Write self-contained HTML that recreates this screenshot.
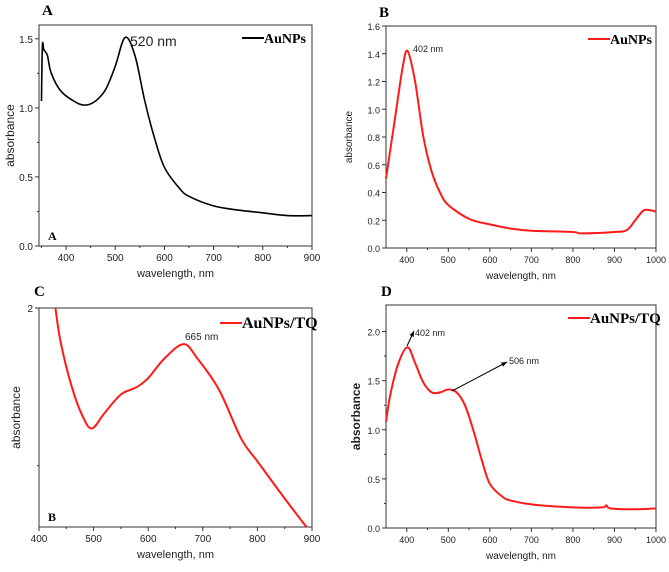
<!DOCTYPE html>
<html><head><meta charset="utf-8">
<style>
html,body{margin:0;padding:0;background:#fff;width:669px;height:572px;overflow:hidden}
svg{display:block}
text{font-family:"Liberation Sans",sans-serif;fill:#222}
.ser{font-family:"Liberation Serif",serif;font-weight:bold;fill:#000}
</style></head><body>
<svg id="fig" width="669" height="572"></svg>
<script>
// Panel A data
const aX=[350,352,355,362,370,390,420,440,460,480,500,520,540,560,580,600,630,650,700,750,800,850,900];
const aY=[1.05,1.45,1.42,1.38,1.25,1.12,1.04,1.02,1.05,1.13,1.3,1.51,1.38,1.05,0.78,0.57,0.42,0.36,0.29,0.26,0.24,0.22,0.22];
const aXT=[400,500,600,700,800,900];
const aYT=[0.0,0.5,1.0,1.5];
// Panel B data
const bX=[350,370,390,402,420,440,460,480,500,550,600,650,700,800,820,900,930,950,970,990,1000];
const bY=[0.5,0.9,1.3,1.42,1.2,0.8,0.55,0.4,0.31,0.21,0.17,0.14,0.125,0.115,0.105,0.115,0.13,0.2,0.27,0.27,0.26];
const bXT=[400,500,600,700,800,900,1000];
const bYT=[0.0,0.2,0.4,0.6,0.8,1.0,1.2,1.4,1.6];
// Panel C data
const cX=[430,440,460,480,497,520,550,580,600,630,665,690,730,770,800,850,890];
const cY=[2.0,1.68,1.28,1.01,0.9,1.04,1.21,1.28,1.36,1.54,1.67,1.54,1.25,0.81,0.6,0.26,0.0];
const cXT=[400,500,600,700,800,900];
const cYT=[2];
// Panel D data
const dX=[350,360,380,402,420,440,460,480,500,520,540,560,580,600,630,650,700,800,870,880,890,940,1000];
const dY=[1.08,1.35,1.68,1.84,1.68,1.48,1.38,1.38,1.41,1.38,1.25,1.0,0.7,0.45,0.32,0.28,0.24,0.21,0.21,0.23,0.2,0.19,0.2];
const dXT=[400,500,600,700,800,900,1000];
const dYT=[0.0,0.5,1.0,1.5,2.0];

const svg=document.getElementById('fig');
const NS='http://www.w3.org/2000/svg';
function el(tag,attrs,txt){const e=document.createElementNS(NS,tag);for(const k in attrs)e.setAttribute(k,attrs[k]);if(txt!==undefined)e.textContent=txt;svg.appendChild(e);return e;}

function smooth(pts){
  let d='M'+pts[0][0].toFixed(1)+','+pts[0][1].toFixed(1);
  for(let i=0;i<pts.length-1;i++){
    const p0=pts[Math.max(0,i-1)],p1=pts[i],p2=pts[i+1],p3=pts[Math.min(pts.length-1,i+2)];
    const c1=[p1[0]+(p2[0]-p0[0])/6,p1[1]+(p2[1]-p0[1])/6];
    const c2=[p2[0]-(p3[0]-p1[0])/6,p2[1]-(p3[1]-p1[1])/6];
    d+='C'+c1[0].toFixed(1)+','+c1[1].toFixed(1)+' '+c2[0].toFixed(1)+','+c2[1].toFixed(1)+' '+p2[0].toFixed(1)+','+p2[1].toFixed(1);
  }
  return d;
}

function panel(p){
  const sx=v=>p.l+(v-p.x0)/(p.x1-p.x0)*(p.r-p.l);
  const sy=v=>p.b-(v-p.y0)/(p.y1-p.y0)*(p.b-p.t);
  const f=el('rect',{x:p.l,y:p.t,width:p.r-p.l,height:p.b-p.t,fill:'none',stroke:'#333','stroke-width':1});
  
  
  p.xt.forEach((v,i)=>{
    const x=sx(v);
    const t=el('line',{x1:x,y1:p.b,x2:x,y2:p.b+4,stroke:'#333'});
    
    
    const mx=sx(v-50);
    if(mx>p.l){const m=el('line',{x1:mx,y1:p.b,x2:mx,y2:p.b+2,stroke:'#333'});
      
      }
    const l=el('text',{x:x,y:p.b+15,'text-anchor':'middle','font-size':p.fs},String(v));
    
    
  });
  p.yt.forEach(v=>{
    const y=sy(v);
    const t=el('line',{x1:p.l,y1:y,x2:p.l-4,y2:y,stroke:'#333'});
    
    
    const l=el('text',{x:p.l-6,y:y+4,'text-anchor':'end','font-size':p.fs},p.fmt(v));
    
    
  });
  if(p.ym){p.ym.forEach(v=>{const y=sy(v);
    const m=el('line',{x1:p.l,y1:y,x2:p.l-2,y2:y,stroke:'#333'});
    
    });}
  const pts=p.xs.map((v,i)=>[sx(v),sy(p.ys[i])]);
  const path=el('path',{d:smooth(pts),fill:'none',stroke:p.col,'stroke-width':p.col==='#000'?1.6:2,'stroke-linejoin':'round'});
  
  
  const xl=el('text',{x:(p.l+p.r)/2,y:p.b+31,'text-anchor':'middle','font-size':p.fs+1},'wavelength, nm');
  
  
  const yx=p.ylx, yy=(p.t+p.b)/2;
  const yl=el('text',{x:yx,y:yy,'text-anchor':'middle','font-size':p.yfs,transform:'rotate(-90 '+yx+' '+yy+')','font-weight':p.ybold?'bold':'normal'},'absorbance');
  
  
  const ll=el('line',{x1:p.lg[0],y1:p.lg[1]-5,x2:p.lg[0]+22,y2:p.lg[1]-5,stroke:p.col,'stroke-width':2});
  
  
  const lt=el('text',{x:p.lg[0]+22,y:p.lg[1],'font-size':p.lg[3],class:'ser'},p.lg[2]);
  
  
  const pl=el('text',{x:p.pl[0],y:p.pl[1],'font-size':15,class:'ser'},p.pl[2]);
  
  
}

panel({id:'a',l:39,r:312,t:25,b:246,x0:345,x1:900,y0:0,y1:1.6,xs:aX,ys:aY,xt:aXT,yt:aYT,ym:[0.25,0.75,1.25],col:'#000',fs:10,yfs:12,ylx:14,fmt:v=>v.toFixed(1),lg:[242,43,'AuNPs',14],pl:[42,15,'A']});
panel({id:'b',l:386,r:656,t:26,b:248,x0:350,x1:1000,y0:0,y1:1.6,xs:bX,ys:bY,xt:bXT,yt:bYT,col:'#ff1a1a',fs:9,yfs:10,ylx:352,fmt:v=>v.toFixed(1),lg:[588,44,'AuNPs',14],pl:[379,17,'B']});
panel({id:'c',l:39,r:312,t:308,b:527,x0:400,x1:900,y0:0,y1:2,xs:cX,ys:cY,xt:cXT,yt:cYT,ym:[0.56],col:'#ff1a1a',fs:10,yfs:12,ylx:20,fmt:v=>String(v),lg:[220,328,'AuNPs/TQ',16],pl:[34,296,'C']});
panel({id:'d',l:386,r:656,t:305,b:528,x0:350,x1:1000,y0:0,y1:2.27,xs:dX,ys:dY,xt:dXT,yt:dYT,ym:[0.25,0.75,1.25,1.75],col:'#ff1a1a',fs:9,yfs:12,ylx:360,ybold:true,fmt:v=>v.toFixed(1),lg:[568,323,'AuNPs/TQ',15],pl:[381,296,'D']});

// annotations
const ann=[[130,46,14,'520 nm','a-peak-label'],[413,52,9,'402 nm','b-peak-label'],[185,340,10,'665 nm','c-peak-label'],[415,336,9,'402 nm','d-peak1-label'],[509,364,9,'506 nm','d-peak2-label']];
ann.forEach(a=>{const t=el('text',{x:a[0],y:a[1],'font-size':a[2]},a[3]);
  
  });
const ia=el('text',{x:48,y:240,'font-size':12,class:'ser'},'A');


const ib=el('text',{x:48,y:521,'font-size':12,class:'ser'},'B');


const arrows=[[407,346,414,331,'d-peak1-arrow'],[452,391,507,362,'d-peak2-arrow']];
arrows.forEach(a=>{
  const ln=el('line',{x1:a[0],y1:a[1],x2:a[2],y2:a[3],stroke:'#000','stroke-width':1});
  
  
  const ang=Math.atan2(a[3]-a[1],a[2]-a[0]);
  const p1=[a[2]-6*Math.cos(ang-0.4),a[3]-6*Math.sin(ang-0.4)],p2=[a[2]-6*Math.cos(ang+0.4),a[3]-6*Math.sin(ang+0.4)];
  const h=el('polygon',{points:a[2]+','+a[3]+' '+p1.join(',')+' '+p2.join(','),fill:'#000'});
  
  
});
</script>
</body></html>
